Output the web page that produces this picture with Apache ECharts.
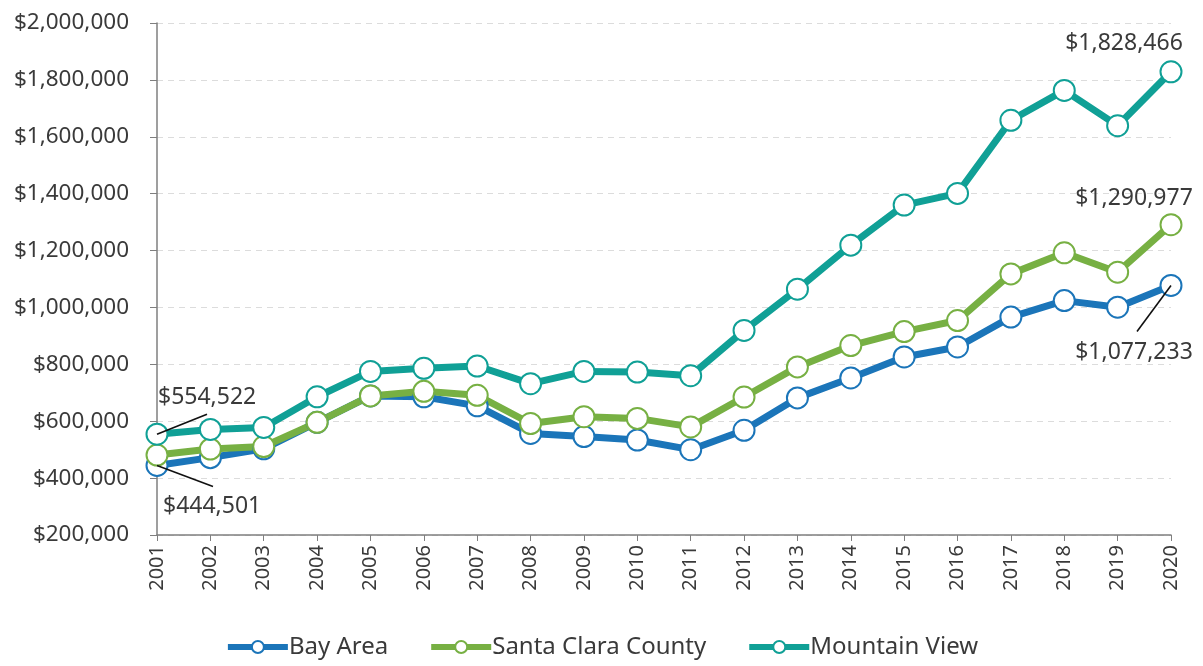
<!DOCTYPE html>
<html><head><meta charset="utf-8">
<script src="https://cdn.jsdelivr.net/npm/echarts@6/dist/echarts.min.js"></script>
<style>html,body{margin:0;padding:0;background:#fff}#c{width:1203px;height:666px}</style>
</head><body><div id="c"></div>
<script>
const years = ['2001','2002','2003','2004','2005','2006','2007','2008','2009','2010','2011','2012','2013','2014','2015','2016','2017','2018','2019','2020'];
const bayArea = [444501,472000,503000,596000,689000,686000,654000,557000,546000,534000,500000,568000,682000,752000,826000,861000,966000,1024000,1001000,1077233];
const santaClara = [481000,502000,511000,596000,689000,705000,691000,592000,616000,610000,580000,685000,791000,866000,915000,954000,1118000,1192000,1124000,1290977];
const mountainView = [554522,571000,578000,686000,775000,786000,794000,732000,775000,773000,760000,919000,1064000,1219000,1360000,1401000,1658000,1763000,1639000,1828466];
const yTicks = {min:200000, max:2000000, interval:200000};

const fmt = v => '$' + Math.round(v).toLocaleString('en-US');
const FONT = 'Noto Sans';
const TXT = '#3a3a3a';
const seriesData = [bayArea, santaClara, mountainView];

// annotation placement relative to the mark (pixels): label anchor offset + leader line end
const annot = {
  0: { // Bay Area
    0:  {dx:6,  dy:30, align:'left',   va:'top',    line:[56,21]},
    19: {dx:-37, dy:55, align:'center', va:'top',   line:[-34,46]}
  },
  1: { // Santa Clara
    19: {dx:-37, dy:-15, align:'center', va:'bottom'}
  },
  2: { // Mountain View
    0:  {dx:1,  dy:-25, align:'left',   va:'bottom', line:[50,-20]},
    19: {dx:-47, dy:-17, align:'center', va:'bottom'}
  }
};

const chart = echarts.init(document.getElementById('c'));
const px = (si, i) => chart.convertToPixel({xAxisIndex:0, yAxisIndex:0}, [i, seriesData[si][i]]);

function dataWithLabels(arr, si) {
  const a = annot[si];
  return arr.map((v,i) => a[i] ? {
    value:v,
    label:{show:true, formatter:p=>fmt(p.value), fontSize:23, color:TXT, fontFamily:FONT}
  } : v);
}

const mk = (name, color, si) => ({
  name, type:'line', data: seriesData[si],
  color,
  lineStyle:{width:7, color},
  symbol:'circle', symbolSize:21,
  itemStyle:{color:'#fff', borderColor:color, borderWidth:2},
  emphasis:{disabled:true},
  labelLine:{show:false},
  labelLayout: p => {
    const a = annot[si][p.dataIndex];
    if (!a) return null;
    const c = px(si, p.dataIndex);
    return {x:c[0]+a.dx, y:c[1]+a.dy, align:a.align, verticalAlign:a.va};
  },
  z:2
});

chart.setOption({
  animation:false,
  textStyle:{fontFamily:FONT},
  grid:{left:157, right:32, top:23, bottom:131},
  legend:{
    bottom:2, left:'center', itemWidth:60, itemHeight:15, itemGap:40,
    textStyle:{fontSize:24, color:TXT, fontFamily:FONT, padding:[0,0,0,-4]},
    lineStyle:{width:6},
    data:['Bay Area','Santa Clara County','Mountain View']
  },
  xAxis:{
    type:'category', data:years, boundaryGap:false,
    axisLine:{lineStyle:{color:'#7f7f7f', width:1.5}},
    axisTick:{show:true, length:6, lineStyle:{color:'#7f7f7f'}},
    axisLabel:{rotate:90, fontSize:20, color:TXT, margin:10, fontFamily:FONT},
    splitLine:{show:false}
  },
  yAxis:{
    type:'value', min:yTicks.min, max:yTicks.max, interval:yTicks.interval,
    axisLine:{show:true, lineStyle:{color:'#7f7f7f', width:1.5}},
    axisTick:{show:true, length:7, lineStyle:{color:'#7f7f7f'}},
    axisLabel:{formatter:fmt, fontSize:22.5, color:TXT, margin:28, fontFamily:FONT},
    splitLine:{show:true, lineStyle:{color:'#dcdcdc', type:[6,5]}}
  },
  series:[
    mk('Bay Area', '#1b75b9', 0),
    mk('Santa Clara County', '#77b043', 1),
    mk('Mountain View', '#10a096', 2)
  ]
});

const lines = [];
Object.keys(annot).forEach(si => {
  Object.keys(annot[si]).forEach(i => {
    const a = annot[si][i];
    if (!a.line) return;
    const c = px(+si, +i);
    lines.push({type:'line', z:10, silent:true,
      shape:{x1:c[0], y1:c[1], x2:c[0]+a.line[0], y2:c[1]+a.line[1]},
      style:{stroke:'#111', lineWidth:1.6}});
  });
});

chart.setOption({
  series:[
    {data:dataWithLabels(bayArea,0)},
    {data:dataWithLabels(santaClara,1)},
    {data:dataWithLabels(mountainView,2)}
  ],
  graphic: lines
});
</script></body></html>
